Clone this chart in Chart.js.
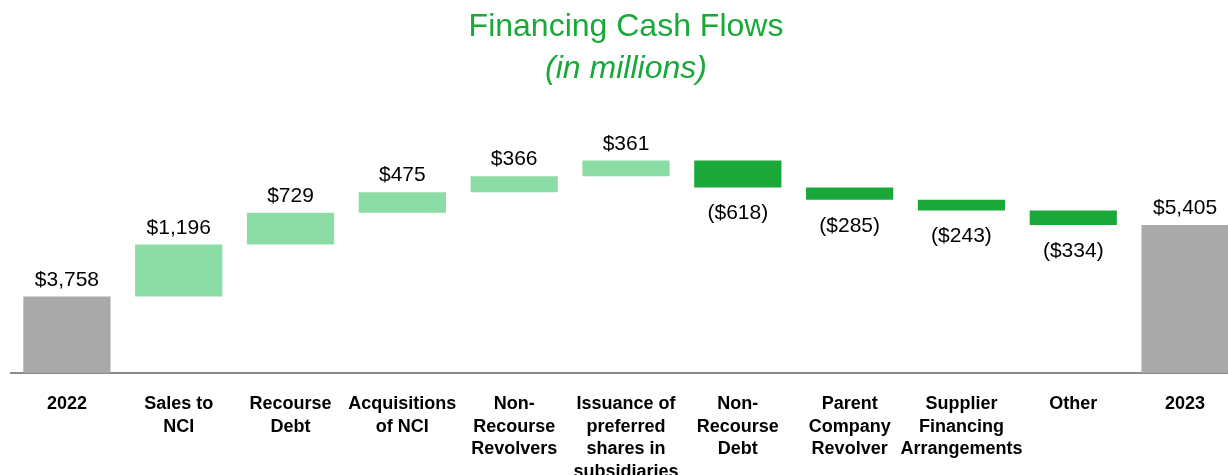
<!DOCTYPE html>
<html>
<head>
<meta charset="utf-8">
<script src="https://cdn.jsdelivr.net/npm/chart.js@4"></script>
<style>
  html, body { margin: 0; padding: 0; background: #fff; overflow: hidden; }
  #wrap { width: 1228px; height: 475px; overflow: hidden; }
</style>
</head>
<body>
<div id="wrap"><canvas id="flows" width="1252" height="475"></canvas></div>
<script>
// data (millions)
const categories = [
  '2022', ['Sales to', 'NCI'], ['Recourse', 'Debt'], ['Acquisitions', 'of NCI'],
  ['Non-', 'Recourse', 'Revolvers'], ['Issuance of', 'preferred', 'shares in', 'subsidiaries'],
  ['Non-', 'Recourse', 'Debt'], ['Parent', 'Company', 'Revolver'],
  ['Supplier', 'Financing', 'Arrangements'], 'Other', '2023'
];
const startTotal = 3758;
const changes = [1196, 729, 475, 366, 361, -618, -285, -243, -334];
const endTotal = 5405;
const valueLabels = ['$3,758', '$1,196', '$729', '$475', '$366', '$361',
  '($618)', '($285)', '($243)', '($334)', '$5,405'];

const FONT = "'Liberation Sans', Arial, Helvetica, sans-serif";
const GREEN = '#1aa83a';

// build floating bars for the waterfall
const bars = [[0, startTotal]];
const colors = ['#a9a9a9'];
let running = startTotal;
changes.forEach(c => {
    bars.push([running, running + c]);
    colors.push(c >= 0 ? '#8cdca5' : GREEN);
    running += c;
});
bars.push([0, endTotal]);
colors.push('#a9a9a9');

const barLabels = {
    id: 'barLabels',
    afterDatasetsDraw(chart) {
        const ctx = chart.ctx;
        const meta = chart.getDatasetMeta(0);
        ctx.save();
        ctx.font = '21px ' + FONT;
        ctx.fillStyle = '#000';
        ctx.textAlign = 'center';
        ctx.textBaseline = 'alphabetic';
        meta.data.forEach((bar, i) => {
            const neg = i > 0 && i < bars.length - 1 && changes[i - 1] < 0;
            const top = Math.min(bar.y, bar.base);
            const bottom = Math.max(bar.y, bar.base);
            const y = neg ? bottom + 32 : top - 11;
            ctx.fillText(valueLabels[i], bar.x, y);
        });
        ctx.restore();
    }
};

new Chart(document.getElementById('flows'), {
    type: 'bar',
    data: {
        labels: categories,
        datasets: [{
            data: bars,
            backgroundColor: colors,
            borderWidth: 0
        }]
    },
    options: {
        responsive: false,
        animation: false,
        layout: { padding: { left: 11, right: 11, top: 0, bottom: 0 } },
        categoryPercentage: 0.78,
        barPercentage: 1.0,
        plugins: {
            legend: { display: false },
            tooltip: { enabled: false },
            title: {
                display: true,
                text: 'Financing Cash Flows',
                color: GREEN,
                font: { family: FONT, size: 32, weight: 'normal', lineHeight: 1.2 },
                padding: { top: 8, bottom: 0 }
            },
            subtitle: {
                display: true,
                text: '(in millions)',
                color: GREEN,
                font: { family: FONT, size: 32, style: 'italic', weight: 'normal', lineHeight: 1.2 },
                padding: { top: 3, bottom: 46 }
            }
        },
        scales: {
            x: {
                grid: { display: false },
                border: { display: true, color: '#8a8a8a', width: 2 },
                ticks: {
                    color: '#000',
                    font: { family: FONT, size: 18, weight: 'bold', lineHeight: 1.25 },
                    padding: 12,
                    maxRotation: 0,
                    autoSkip: false
                },
                afterFit(scale) { scale.height = 102; }
            },
            y: {
                display: false,
                min: 2000,
                max: 7500
            }
        }
    },
    plugins: [barLabels]
});
</script>
</body>
</html>
